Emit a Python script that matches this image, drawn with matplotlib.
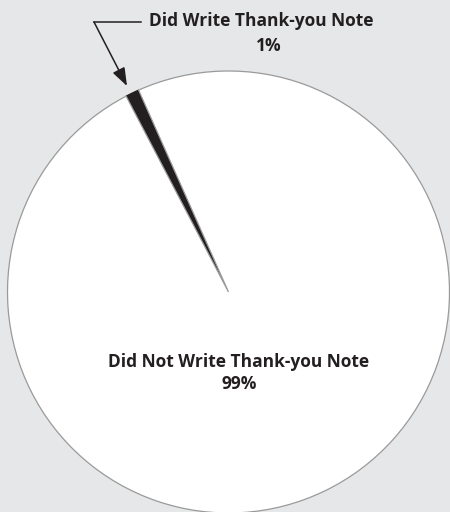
import matplotlib.pyplot as plt

labels = ["Did Write Thank-you Note", "Did Not Write Thank-you Note"]
shares = [1, 99]
pct_labels = ["1%", "99%"]
colors = ["#231f20", "#ffffff"]

W, H = 450, 512
fig = plt.figure(figsize=(W / 100, H / 100), dpi=100)
fig.patch.set_facecolor("#e6e7e8")
ax = fig.add_axes([0, 0, 1, 1])
ax.set_facecolor("#e6e7e8")

ax.pie(shares, colors=colors, startangle=114.0, counterclock=True,
       center=(228.5, H - 292), radius=221,
       wedgeprops=dict(edgecolor="#9a9a9a", linewidth=0.9))
# black wedge gets a black outline so it looks solid
ax.patches[0].set_edgecolor("#231f20")

ax.set_xlim(0, W)
ax.set_ylim(0, H)
ax.set_aspect("equal")
ax.axis("off")

font = dict(family=["Open Sans", "DejaVu Sans"], weight="bold", size=12.5, color="#231f20")

# small slice label with leader arrow
ax.text(261, H - 21, labels[0], ha="center", va="center", **font)
ax.text(269, H - 46, pct_labels[0], ha="center", va="center", **font)
ax.plot([141, 94], [H - 22, H - 22], color="#231f20", lw=1.1)
ax.annotate("", xy=(127, H - 86), xytext=(94, H - 22),
            arrowprops=dict(arrowstyle="-|>,head_length=0.55,head_width=0.2",
                            color="#231f20", lw=1.1,
                            mutation_scale=20, shrinkA=0, shrinkB=0))

# large slice label
ax.text(239, H - 362, labels[1], ha="center", va="center", **font)
ax.text(239, H - 384, pct_labels[1], ha="center", va="center", **font)

fig.savefig("out.png", dpi=100, facecolor=fig.get_facecolor())
